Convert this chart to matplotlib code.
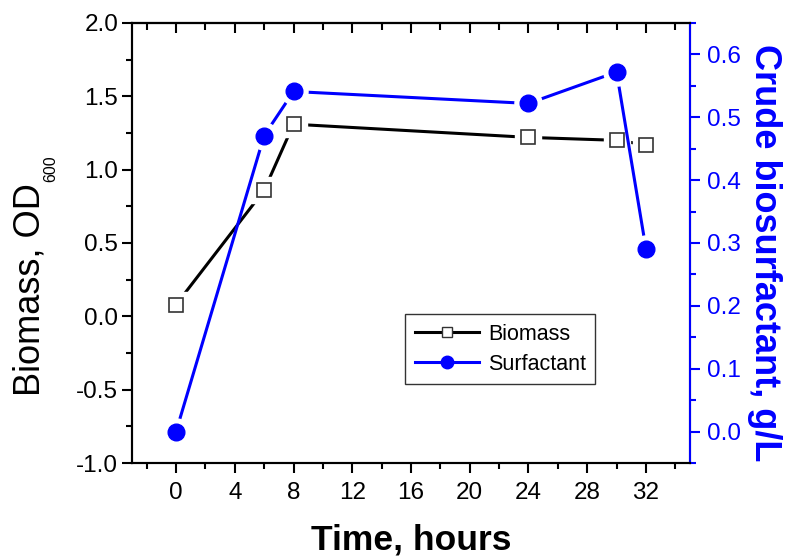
import numpy as np
import matplotlib.pyplot as plt
from matplotlib.ticker import MultipleLocator
from matplotlib.lines import Line2D

plt.rcParams['font.family'] = ['Liberation Sans', 'DejaVu Sans']

hours = [0, 6, 8, 24, 30, 32]
biomass = [0.08, 0.86, 1.31, 1.22, 1.20, 1.17]
surfactant = [0.0, 0.471, 0.541, 0.522, 0.572, 0.291]

fig = plt.figure(figsize=(7.92, 5.59), dpi=100)
ax = fig.add_axes([0.1667, 0.1717, 0.7045, 0.7872])
ax2 = ax.twinx()

blue = '#0000ff'

# biomass: line, white halo under the markers, then the open squares
ax.plot(hours, biomass, color='black', lw=2.2, zorder=2)
ax.plot(hours, biomass, ls='none', marker='s', ms=19, mfc='white', mec='white', zorder=3)
ax.plot(hours, biomass, ls='none', marker='s', ms=10, mfc='white', mec='#333333', mew=1.2, zorder=4)

# surfactant on the right axis
ax2.plot(hours, surfactant, color=blue, lw=2.2, zorder=2)
ax2.plot(hours, surfactant, ls='none', marker='o', ms=19.5, mfc='white', mec='white', zorder=3)
ax2.plot(hours, surfactant, ls='none', marker='o', ms=12, mfc=blue, mec=blue, zorder=4)

ax.set_xlim(-3, 35)
ax.set_ylim(-1.0, 2.0)
ax2.set_ylim(-0.05, 0.65)

ax.xaxis.set_major_locator(MultipleLocator(4))
ax.xaxis.set_minor_locator(MultipleLocator(2))
ax.yaxis.set_major_locator(MultipleLocator(0.5))
ax.yaxis.set_minor_locator(MultipleLocator(0.25))
ax.yaxis.set_major_formatter(plt.FormatStrFormatter('%.1f'))
ax2.yaxis.set_major_locator(MultipleLocator(0.1))
ax2.yaxis.set_minor_locator(MultipleLocator(0.05))
ax2.yaxis.set_major_formatter(plt.FormatStrFormatter('%.1f'))

for a in (ax, ax2):
    for s in a.spines.values():
        s.set_linewidth(1.5)

fs_tick = 17.5
ax.tick_params(axis='x', which='both', direction='out', top=False, labelsize=fs_tick, width=1.5, pad=7)
ax.tick_params(axis='x', which='major', length=7)
ax.tick_params(axis='x', which='minor', length=4)
ax.tick_params(axis='y', which='both', direction='out', right=False, labelsize=fs_tick, width=1.5, pad=3)
ax.tick_params(axis='y', which='major', length=7)
ax.tick_params(axis='y', which='minor', length=4)

# top ticks point inward, no labels
top = ax.secondary_xaxis('top')
top.xaxis.set_major_locator(MultipleLocator(4))
top.xaxis.set_minor_locator(MultipleLocator(2))
top.tick_params(axis='x', which='both', direction='in', labeltop=False, width=1.5)
top.tick_params(axis='x', which='major', length=7)
top.tick_params(axis='x', which='minor', length=5)
top.spines['top'].set_linewidth(1.5)

ax2.spines['right'].set_color(blue)
ax2.tick_params(axis='y', which='both', direction='out', colors=blue, labelsize=fs_tick, width=1.5, pad=5)
ax2.tick_params(axis='y', which='major', length=7)
ax2.tick_params(axis='y', which='minor', length=4)

ax.set_xlabel('Time, hours', fontsize=25.5, fontweight='bold')
ax.xaxis.set_label_coords(0.5, -0.138)
ax.set_ylabel('Biomass, OD', fontsize=26)
ax.yaxis.set_label_coords(-0.151, 0.395)
# small subscript drawn just past the OD
fig.text(51 / 792, 1 - 182 / 559, '600', fontsize=11.5, rotation=90,
         ha='center', va='bottom')
ax2.set_ylabel('Crude biosurfactant, g/L', fontsize=26, fontweight='bold', color=blue,
               rotation=270)
ax2.yaxis.set_label_coords(1.165, 0.478)

handles = [
    Line2D([], [], color='black', lw=2.2, marker='s', ms=7.5, mfc='white', mec='#333333'),
    Line2D([], [], color=blue, lw=2.2, marker='o', ms=9, mfc=blue, mec=blue),
]
leg = ax2.legend(handles, ['Biomass', 'Surfactant'], loc='upper left',
                 bbox_to_anchor=(0.489, 0.339), fontsize=15.5, frameon=True,
                 fancybox=False, edgecolor='black', handlelength=3.0,
                 handletextpad=0.4, borderpad=0.45, labelspacing=0.42,
                 borderaxespad=0)
leg.get_frame().set_linewidth(1.0)

fig.savefig('out.png', dpi=100)
